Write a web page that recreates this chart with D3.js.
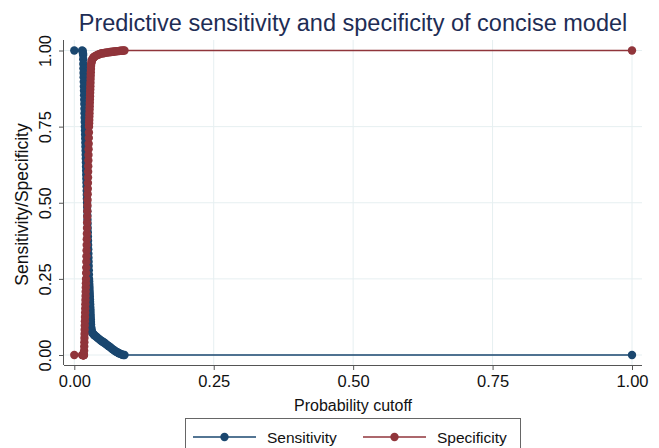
<!DOCTYPE html>
<html>
<head>
<meta charset="utf-8">
<script src="https://cdn.jsdelivr.net/npm/d3@7"></script>
<style>
  body { margin: 0; background: #fff; }
  svg text { font-family: 'Liberation Sans', Arial, sans-serif; }
</style>
</head>
<body>
<div id="chart"></div>
<script>
// cutoffs shared by both curves (lsens style)
const cutoffs = [0, 0.0140, 0.0152, 0.0156, 0.0158,
  0.0160, 0.0162, 0.0164, 0.0166, 0.0168, 0.0170, 0.0172, 0.0174, 0.0176, 0.0178,
  0.0180, 0.0182, 0.0184, 0.0186, 0.0188, 0.0190, 0.0192, 0.0194, 0.0196, 0.0198,
  0.0200, 0.0202, 0.0204, 0.0206, 0.0208, 0.0210, 0.0212, 0.0214, 0.0216, 0.0218,
  0.0220, 0.0222, 0.0224, 0.0226, 0.0228, 0.0230, 0.0232, 0.0234, 0.0236, 0.0238,
  0.0240, 0.0242, 0.0244, 0.0246, 0.0248, 0.0250, 0.0252, 0.0254, 0.0256, 0.0258,
  0.0260, 0.0262, 0.0264, 0.0266, 0.0268, 0.0270, 0.0272, 0.0274, 0.0276, 0.0278,
  0.0280, 0.0282, 0.0284, 0.0286, 0.0288, 0.0290, 0.0292, 0.0294, 0.0296, 0.0298,
  0.0300, 0.0305, 0.0310, 0.0315, 0.0320, 0.0330, 0.0340, 0.0350, 0.0360, 0.0380,
  0.040, 0.042, 0.044, 0.046, 0.048, 0.050, 0.052, 0.054, 0.056, 0.058,
  0.060, 0.062, 0.064, 0.066, 0.068, 0.070, 0.072, 0.074, 0.076, 0.078,
  0.080, 0.082, 0.084, 0.086, 0.088, 0.090, 1];
const sensitivity = [1, 1, 0.998, 0.990, 0.985,
  0.971, 0.956, 0.941, 0.926, 0.912, 0.897, 0.882, 0.868, 0.853, 0.838,
  0.824, 0.809, 0.794, 0.779, 0.765, 0.750, 0.737, 0.724, 0.711, 0.697,
  0.684, 0.671, 0.658, 0.645, 0.632, 0.618, 0.605, 0.592, 0.579, 0.566,
  0.553, 0.539, 0.526, 0.513, 0.500, 0.486, 0.472, 0.458, 0.444, 0.431,
  0.417, 0.403, 0.389, 0.375, 0.361, 0.347, 0.333, 0.319, 0.306, 0.292,
  0.278, 0.264, 0.250, 0.242, 0.233, 0.225, 0.217, 0.208, 0.200, 0.192,
  0.183, 0.175, 0.167, 0.158, 0.150, 0.142, 0.133, 0.125, 0.117, 0.108,
  0.100, 0.090, 0.082, 0.077, 0.074, 0.071, 0.069, 0.067, 0.065, 0.062,
  0.059, 0.056, 0.053, 0.050, 0.047, 0.045, 0.042, 0.040, 0.037, 0.034,
  0.031, 0.029, 0.026, 0.023, 0.020, 0.017, 0.015, 0.012, 0.010, 0.008,
  0.006, 0.004, 0.003, 0.001, 0, 0, 0];
const specificity = [0, 0, 0, 0, 0,
  0, 0, 0, 0, 0, 0, 0, 0, 0.014, 0.028,
  0.042, 0.056, 0.069, 0.083, 0.097, 0.111, 0.125, 0.139, 0.153, 0.167,
  0.181, 0.194, 0.208, 0.222, 0.236, 0.250, 0.269, 0.287, 0.306, 0.324,
  0.343, 0.361, 0.380, 0.398, 0.417, 0.435, 0.454, 0.472, 0.491, 0.509,
  0.528, 0.546, 0.565, 0.583, 0.602, 0.620, 0.639, 0.657, 0.676, 0.694,
  0.713, 0.731, 0.750, 0.761, 0.772, 0.783, 0.794, 0.806, 0.817, 0.828,
  0.839, 0.850, 0.861, 0.872, 0.883, 0.894, 0.906, 0.917, 0.928, 0.939,
  0.950, 0.958, 0.963, 0.967, 0.970, 0.973, 0.976, 0.978, 0.980, 0.982,
  0.984, 0.986, 0.987, 0.989, 0.990, 0.991, 0.991, 0.992, 0.993, 0.993,
  0.994, 0.994, 0.995, 0.995, 0.996, 0.996, 0.997, 0.997, 0.998, 0.998,
  0.998, 0.999, 0.999, 0.999, 1, 1, 1];
const tickVals = [0, 0.25, 0.5, 0.75, 1];
const seriesNames = ['Sensitivity', 'Specificity'];
const seriesColors = ['#1a476f', '#90353b'];

const W = 659, H = 448;
const plot = { left: 64, right: 642, top: 40, bottom: 365 };

const svg = d3.select('#chart').append('svg')
  .attr('width', W).attr('height', H);

const x = d3.scaleLinear().domain([0, 1]).range([74.3, 632]);
const y = d3.scaleLinear().domain([0, 1]).range([355, 50.5]);

// grid
svg.append('g').selectAll('line').data(tickVals).enter().append('line')
  .attr('x1', d => x(d)).attr('x2', d => x(d))
  .attr('y1', plot.top).attr('y2', plot.bottom)
  .attr('stroke', '#e6eff1').attr('stroke-width', 1);
svg.append('g').selectAll('line').data(tickVals).enter().append('line')
  .attr('y1', d => y(d)).attr('y2', d => y(d))
  .attr('x1', plot.left).attr('x2', plot.right)
  .attr('stroke', '#e6eff1').attr('stroke-width', 1);

// axes
const fmt = d3.format('.2f');
const xAxis = svg.append('g')
  .attr('transform', `translate(0,${plot.bottom})`)
  .call(d3.axisBottom(x).tickValues(tickVals).tickFormat(fmt).tickSize(5).tickSizeOuter(0).tickPadding(5));
xAxis.select('.domain').attr('d', `M${plot.left},0.5H${plot.right}`);
const yAxis = svg.append('g')
  .attr('transform', `translate(${plot.left},0)`)
  .call(d3.axisLeft(y).tickValues(tickVals).tickFormat(fmt).tickSize(5).tickSizeOuter(0));
yAxis.select('.domain').attr('d', `M-0.5,${plot.top}V${plot.bottom}`);
svg.selectAll('.domain, .tick line').attr('stroke', '#555');
xAxis.selectAll('text').attr('font-size', 16.5).attr('fill', '#111');
yAxis.selectAll('.tick text')
  .attr('font-size', 16.5).attr('fill', '#111')
  .attr('x', null).attr('dy', null)
  .attr('text-anchor', 'middle')
  .attr('transform', 'translate(-13,0) rotate(-90)');

// axis titles
svg.append('text').attr('x', 353).attr('y', 411)
  .attr('text-anchor', 'middle').attr('font-size', 16).attr('fill', '#111')
  .text('Probability cutoff');
svg.append('text')
  .attr('transform', `translate(28,${(plot.top + plot.bottom) / 2 + 2}) rotate(-90)`)
  .attr('text-anchor', 'middle').attr('font-size', 17.5).attr('fill', '#111')
  .text('Sensitivity/Specificity');

// title
svg.append('text').attr('x', 353).attr('y', 31)
  .attr('text-anchor', 'middle').attr('font-size', 23.5).attr('fill', '#1e2d55')
  .text('Predictive sensitivity and specificity of concise model');

// series
const series = [sensitivity, specificity];
series.forEach((vals, i) => {
  const pts = cutoffs.map((c, j) => ({ c, v: vals[j] }));
  const g = svg.append('g');
  g.append('path').datum(pts)
    .attr('fill', 'none').attr('stroke', seriesColors[i]).attr('stroke-width', 1.5)
    .attr('d', d3.line().x(d => x(d.c)).y(d => y(d.v)));
  g.selectAll('circle').data(pts).enter().append('circle')
    .attr('cx', d => x(d.c)).attr('cy', d => y(d.v)).attr('r', 4.2)
    .attr('fill', seriesColors[i]);
});

// legend
const legend = svg.append('g');
legend.append('rect').attr('x', 185.5).attr('y', 418.5).attr('width', 335).attr('height', 40)
  .attr('fill', '#fff').attr('stroke', '#666');
const legX = [193, 363];
seriesNames.forEach((name, i) => {
  const lg = legend.append('g').attr('transform', `translate(${legX[i]},437)`);
  lg.append('line').attr('x1', 0).attr('x2', 63).attr('y1', 0).attr('y2', 0)
    .attr('stroke', seriesColors[i]).attr('stroke-width', 1.5);
  lg.append('circle').attr('cx', 31.5).attr('cy', 0).attr('r', 4.2).attr('fill', seriesColors[i]);
  lg.append('text').attr('x', 74).attr('y', 6).attr('font-size', 15.5).attr('fill', '#111').text(name);
});
</script>
</body>
</html>
